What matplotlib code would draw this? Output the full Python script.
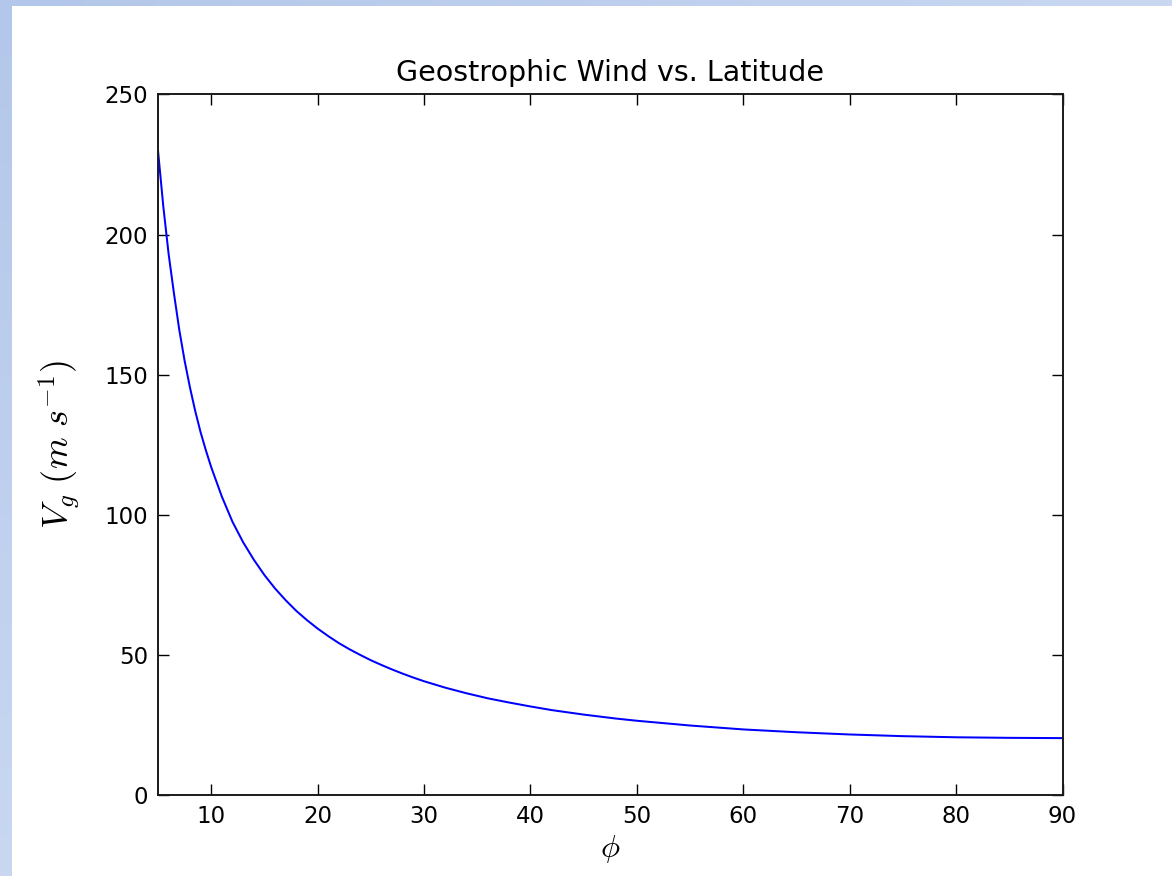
import numpy as np
import matplotlib
matplotlib.use('Agg')
import matplotlib.pyplot as plt
from matplotlib.colors import LinearSegmentedColormap

plt.rcParams['mathtext.fontset'] = 'cm'
plt.rcParams['font.family'] = 'DejaVu Sans'

# latitude (deg) and geostrophic wind (m/s)
lat = [5, 5.5, 6, 6.5, 7, 7.5, 8, 8.5, 9, 9.5, 10, 11, 12, 13, 14, 15, 16, 17,
       18, 19, 20, 21, 22, 23, 24, 25, 26, 27, 28, 29, 30, 32, 34, 36, 38, 40,
       42, 45, 48, 50, 55, 60, 65, 70, 75, 80, 85, 90]
vg = [230, 210, 193, 179, 166, 155, 145.5, 137, 129.5, 123, 117, 106.5, 97.5,
      90.2, 84, 78.5, 73.7, 69.5, 65.7, 62.4, 59.4, 56.7, 54.2, 52.0, 50.0,
      48.1, 46.4, 44.8, 43.3, 41.9, 40.6, 38.3, 36.3, 34.5, 33.0, 31.6, 30.3,
      28.7, 27.3, 26.5, 24.8, 23.4, 22.4, 21.6, 21.0, 20.6, 20.4, 20.3]

xticks = [10, 20, 30, 40, 50, 60, 70, 80, 90]
yticks = [0, 50, 100, 150, 200, 250]

fig = plt.figure(figsize=(11.72, 8.76), dpi=100, facecolor='white')

# slide border (light blue strips on the left and top)
grad = np.linspace(0, 1, 256)
cm = LinearSegmentedColormap.from_list('border', ['#b3c7ea', '#c9d7f1'])
left = fig.add_axes([0, 0, 11/1172, 1])
left.imshow(grad[:, None], aspect='auto', cmap=cm)
left.axis('off')
top = fig.add_axes([11/1172, 1 - 6/876, 1 - 11/1172, 6/876])
top.imshow(grad[None, :], aspect='auto', cmap=cm)
top.axis('off')

ax = fig.add_axes([158/1172, 1 - 795/876, (1062.5 - 158)/1172, (795 - 94.5)/876])
ax.plot(lat, vg, color='#0000ff', lw=1.45)
ax.set_xlim(5, 90)
ax.set_ylim(0, 250)
ax.set_xticks(xticks)
ax.set_yticks(yticks)
ax.tick_params(direction='in', length=8, width=1, top=True, right=True,
               labelsize=16.5, pad=7, colors='black')
for s in ax.spines.values():
    s.set_linewidth(1.4)
    s.set_color('#1a1a1a')
ax.set_title('Geostrophic Wind vs. Latitude', fontsize=20.5, pad=10)
ax.set_xlabel(r'$\phi$', fontsize=23)
ax.set_ylabel(r'$V_g\ (m\ s^{-1})$', fontsize=26)
ax.yaxis.set_label_coords(-0.083, 0.5)
ax.xaxis.set_label_coords(0.5, -0.054)

plt.savefig('out.png', dpi=100)
